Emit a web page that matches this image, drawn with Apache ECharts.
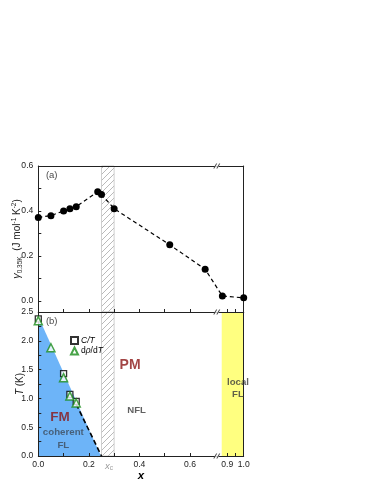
<!DOCTYPE html>
<html><head><meta charset="utf-8">
<script src="https://cdn.jsdelivr.net/npm/echarts@6/dist/echarts.min.js"></script>
<style>html,body{margin:0;padding:0;background:#fff}#c{width:374px;height:484px}</style>
</head><body><div id="c"></div>
<script>
// ---------------- data ----------------
// panel (a): gamma at 0.35 K vs x
const gammaX = [0, 0.05, 0.10, 0.125, 0.15, 0.235, 0.25, 0.30, 0.52, 0.66, 0.87, 1.0];
const gammaY = [0.371, 0.379, 0.400, 0.410, 0.419, 0.485, 0.473, 0.410, 0.249, 0.140, 0.021, 0.013];
// panel (b): transition temperatures
const ctX = [0, 0.10, 0.125, 0.15];
const ctT = [2.38, 1.43, 1.07, 0.95];
const drX = [0, 0.05, 0.10, 0.125, 0.15];
const drT = [2.35, 1.88, 1.36, 1.04, 0.92];
// FM phase boundary (filled region) and dashed extrapolation
const fmEdgeX = [0, 0.248];
const fmEdgeT = [2.42, 0];
const fmDashX = [0.15, 0.25];
const fmDashT = [0.90, 0];
// regions
const xcBand = [0.25, 0.30];
const localBand = [0.866, 1.0];
const XC = 0.28;
// tick labels
const xTickLabels = [0, 0.2, 0.4, 0.6, 0.9, 1.0];
const xTicks = [0.1, 0.2, 0.3, 0.4, 0.5, 0.6, 0.9, 0.95];
const gTickLabels = [0, 0.2, 0.4, 0.6];
const gTicks = [0, 0.1, 0.2, 0.3, 0.4, 0.5, 0.6];
const tTickLabels = [0, 0.5, 1.0, 1.5, 2.0, 2.5];
const tTicks = [0, 0.25, 0.5, 0.75, 1.0, 1.25, 1.5, 1.75, 2.0, 2.25, 2.5];
const BREAK_X = 0.706;

// ---------------- broken axis mapping ----------------
const RIGHT_X0 = 0.9, RIGHT_U0 = 0.7476, RIGHT_SCALE = 0.649;
function toU(x){ return x < 0.78 ? x : RIGHT_U0 + (x - RIGHT_X0) * RIGHT_SCALE; }
function fromU(u){ return u <= 0.71 ? u : RIGHT_X0 + (u - RIGHT_U0) / RIGHT_SCALE; }
const U_MAX = toU(1.0);
const zip = (xs, ys) => xs.map((x, i) => [toU(x), ys[i]]);

// hatch pattern
const pc = document.createElement('canvas');
pc.width = 6; pc.height = 6;
const pctx = pc.getContext('2d');
pctx.strokeStyle = '#a8a8a8'; pctx.lineWidth = 0.8;
pctx.beginPath();
pctx.moveTo(-1, 7); pctx.lineTo(7, -1);
pctx.moveTo(-1, 1); pctx.lineTo(1, -1);
pctx.moveTo(5, 7); pctx.lineTo(7, 5);
pctx.stroke();
const hatch = { image: pc, repeat: 'repeat' };

const FONT = 'Liberation Sans, Arial, sans-serif';
const GL = 38.3, GW = 205.4;

function lineAxis(gridIndex, pos, isX, min, max){
  return {
    gridIndex, position: pos, type: 'value', min, max, z: 3,
    axisLine: { show: true, onZero: false, lineStyle: { color: '#222', width: 1 } },
    axisTick: { show: false }, axisLabel: { show: false }, splitLine: { show: false }
  };
}

const xLabelFmt = v => {
  if (Math.abs(v - XC) < 1e-6) return '{xc|x}{xs|c}';
  return fromU(v).toFixed(1);
};

const breakSym = 'path://M0,8 L3,0 L4.2,0 L1.2,8 Z M3.2,8 L6.2,0 L7.4,0 L4.4,8 Z';

function annot(u, y, text, style){
  return { value: [u, y], label: Object.assign({ show: true, position: 'inside', formatter: text, fontFamily: FONT }, style) };
}

const option = {
  animation: false,
  backgroundColor: '#fff',
  textStyle: { fontFamily: FONT },
  grid: [
    { left: GL, width: GW, top: 166, height: 146, outerBoundsMode: 'none', containLabel: false },
    { left: GL, width: GW, top: 312, height: 144, outerBoundsMode: 'none', containLabel: false }
  ],
  legend: {
    left: 65, top: 331, orient: 'vertical', itemWidth: 7, itemHeight: 7, itemGap: 1.5,
    data: ['C/T', 'dρ/dT'],
    formatter: n => n === 'C/T' ? '{i|C/T}' : 'd{i|ρ}/d{i|T}',
    textStyle: { fontSize: 8.5, color: '#000', fontFamily: FONT, padding: [0,0,0,-2],
      rich: { i: { fontStyle: 'italic', fontSize: 8.5, fontFamily: FONT } } }
  },
  xAxis: [
    { gridIndex: 0, position: 'bottom', type: 'value', min: 0, max: U_MAX, z: 3,
      axisLine: { show: true, onZero: false, lineStyle: { color: '#222', width: 1 } },
      axisTick: { show: true, inside: true, length: 3, customValues: xTicks.map(toU), lineStyle: { color: '#222' } },
      axisLabel: { show: false }, splitLine: { show: false } },
    lineAxis(0, 'top', true, 0, U_MAX),
    { gridIndex: 1, position: 'bottom', type: 'value', min: 0, max: U_MAX, z: 3,
      name: 'x', nameLocation: 'middle', nameGap: 14, nameMoveOverlap: false,
      nameTextStyle: { fontSize: 11.5, fontStyle: 'italic', fontWeight: 'bold', color: '#000', fontFamily: FONT },
      axisLine: { show: true, onZero: false, lineStyle: { color: '#222', width: 1 } },
      axisTick: { show: true, inside: true, length: 3, customValues: xTicks.map(toU), lineStyle: { color: '#222' } },
      axisLabel: { show: true, margin: 4, fontSize: 8.6, color: '#222', fontFamily: FONT,
        customValues: xTickLabels.map(toU).concat([XC]), formatter: xLabelFmt,
        rich: { xc: { fontStyle: 'italic', fontSize: 9.5, color: '#9a9a9a', fontFamily: FONT },
                xs: { fontSize: 6.5, color: '#9a9a9a', verticalAlign: 'bottom', padding: [5,0,0,0], fontFamily: FONT } } },
      splitLine: { show: false } },
    lineAxis(1, 'top', true, 0, U_MAX)
  ],
  yAxis: [
    { gridIndex: 0, position: 'left', type: 'value', min: -0.05, max: 0.6, z: 3,
      name: '{g|γ}{sub|0.35K}  (J mol{sup|-1} K{sup|-2})', nameLocation: 'middle', nameGap: 15, nameMoveOverlap: false,
      nameTextStyle: { fontSize: 10, color: '#222', fontFamily: FONT,
        rich: { g: { fontStyle: 'italic', fontSize: 11, fontFamily: FONT },
                sub: { fontSize: 6.5, verticalAlign: 'bottom', padding: [6,0,0,0], fontFamily: FONT },
                sup: { fontSize: 6.5, verticalAlign: 'top', padding: [0,0,5,0], fontFamily: FONT } } },
      axisLine: { show: true, onZero: false, lineStyle: { color: '#222', width: 1 } },
      axisTick: { show: true, inside: true, length: 3, customValues: gTicks, lineStyle: { color: '#222' } },
      axisLabel: { show: true, margin: 5, fontSize: 8.6, color: '#222', fontFamily: FONT,
        customValues: gTickLabels, formatter: v => v.toFixed(1) },
      splitLine: { show: false } },
    lineAxis(0, 'right', false, -0.05, 0.6),
    { gridIndex: 1, position: 'left', type: 'value', min: 0, max: 2.5, interval: 0.5, z: 3,
      name: '{i|T} (K)', nameLocation: 'middle', nameGap: 13, nameMoveOverlap: false,
      nameTextStyle: { fontSize: 10, color: '#222', fontFamily: FONT,
        rich: { i: { fontStyle: 'italic', fontSize: 10, fontFamily: FONT } } },
      axisLine: { show: true, onZero: false, lineStyle: { color: '#222', width: 1 } },
      axisTick: { show: true, inside: true, length: 3, customValues: tTicks, lineStyle: { color: '#222' } },
      axisLabel: { show: true, margin: 5, fontSize: 8.6, color: '#222', fontFamily: FONT,
        customValues: tTickLabels, formatter: v => v.toFixed(1) },
      splitLine: { show: false } },
    lineAxis(1, 'right', false, 0, 2.5)
  ],
  series: [
    // backgrounds panel (a)
    { type: 'line', xAxisIndex: 0, yAxisIndex: 0, data: [], z: 1, silent: true,
      markArea: { silent: true, itemStyle: { color: hatch, borderColor: '#c4c4c4', borderWidth: 0.8 },
        data: [[{ xAxis: toU(xcBand[0]) }, { xAxis: toU(xcBand[1]) }]] } },
    // backgrounds panel (b)
    { type: 'line', xAxisIndex: 2, yAxisIndex: 2, data: [], z: 1, silent: true,
      markArea: { silent: true, data: [
        [{ xAxis: toU(xcBand[0]), itemStyle: { color: hatch, borderColor: '#c4c4c4', borderWidth: 0.8 } }, { xAxis: toU(xcBand[1]) }],
        [{ xAxis: toU(localBand[0]), itemStyle: { color: '#ffff80', borderWidth: 0 } }, { xAxis: toU(localBand[1]) }]
      ] } },
    // FM region
    { type: 'line', xAxisIndex: 2, yAxisIndex: 2, data: zip(fmEdgeX, fmEdgeT), z: 1,
      showSymbol: false, lineStyle: { width: 0 }, areaStyle: { color: '#6db4f8', opacity: 1, origin: 'start' } },
    // gamma
    { type: 'line', xAxisIndex: 0, yAxisIndex: 0, data: zip(gammaX, gammaY), z: 4,
      symbol: 'circle', symbolSize: 7, itemStyle: { color: '#000' },
      lineStyle: { color: '#000', width: 1.2, type: [4, 3] } },
    // dashed extrapolation
    { type: 'line', xAxisIndex: 2, yAxisIndex: 2, data: zip(fmDashX, fmDashT), z: 4,
      showSymbol: false, lineStyle: { color: '#000', width: 1.6, type: [5, 3] } },
    { name: 'C/T', type: 'scatter', xAxisIndex: 2, yAxisIndex: 2, data: zip(ctX, ctT), z: 4, clip: false,
      symbol: 'rect', symbolSize: 6, itemStyle: { color: '#fff', borderColor: '#000', borderWidth: 1.3 } },
    { name: 'dρ/dT', type: 'scatter', xAxisIndex: 2, yAxisIndex: 2, data: zip(drX, drT), z: 4, clip: false,
      symbol: 'triangle', symbolSize: 8, itemStyle: { color: '#fff', borderColor: '#1a8c1a', borderWidth: 1.5 } },
    // break marks
    { type: 'scatter', xAxisIndex: 0, yAxisIndex: 0, z: 6, clip: false, silent: true,
      data: [[BREAK_X, 0.6], [BREAK_X, -0.05]], symbol: 'rect', symbolSize: [4, 3], itemStyle: { color: '#fff' } },
    { type: 'scatter', xAxisIndex: 2, yAxisIndex: 2, z: 6, clip: false, silent: true,
      data: [[BREAK_X, 0]], symbol: 'rect', symbolSize: [4, 3], itemStyle: { color: '#fff' } },
    { type: 'scatter', xAxisIndex: 0, yAxisIndex: 0, z: 7, clip: false, silent: true,
      data: [[BREAK_X, 0.6], [BREAK_X, -0.05]], symbol: breakSym, symbolSize: [7, 5], itemStyle: { color: '#222' } },
    { type: 'scatter', xAxisIndex: 2, yAxisIndex: 2, z: 7, clip: false, silent: true,
      data: [[BREAK_X, 0]], symbol: breakSym, symbolSize: [7, 5], itemStyle: { color: '#222' } },
    // annotations panel (a)
    { type: 'scatter', xAxisIndex: 0, yAxisIndex: 0, z: 8, silent: true, symbolSize: 1,
      itemStyle: { color: 'rgba(0,0,0,0)' },
      data: [ annot(0.053, 0.558, '(a)', { fontSize: 9.5, color: '#111' }) ] },
    // annotations panel (b)
    { type: 'scatter', xAxisIndex: 2, yAxisIndex: 2, z: 8, silent: true, symbolSize: 1,
      itemStyle: { color: 'rgba(0,0,0,0)' },
      data: [
        annot(0.053, 2.33, '(b)', { fontSize: 9.5, color: '#111' }),
        annot(0.363, 1.58, 'PM', { fontSize: 14, fontWeight: 'bold', color: '#8b1515' }),
        annot(0.389, 0.80, 'NFL', { fontSize: 9.6, fontWeight: 'bold', color: '#3a3a3a' }),
        annot(0.086, 0.67, 'FM', { fontSize: 13.5, fontWeight: 'bold', color: '#8b1515' }),
        annot(0.099, 0.41, 'coherent', { fontSize: 9.7, fontWeight: 'bold', color: '#3d4b5a' }),
        annot(0.099, 0.18, 'FL', { fontSize: 9.7, fontWeight: 'bold', color: '#3d4b5a' }),
        annot(toU(0.965), 1.285, 'local', { fontSize: 9.6, fontWeight: 'bold', color: '#3a3a3a' }),
        annot(toU(0.965), 1.075, 'FL', { fontSize: 9.6, fontWeight: 'bold', color: '#3a3a3a' })
      ] }
  ]
};
const chart = echarts.init(document.getElementById('c'), null, { renderer: 'canvas' });
chart.setOption(option);
</script>
</body></html>
